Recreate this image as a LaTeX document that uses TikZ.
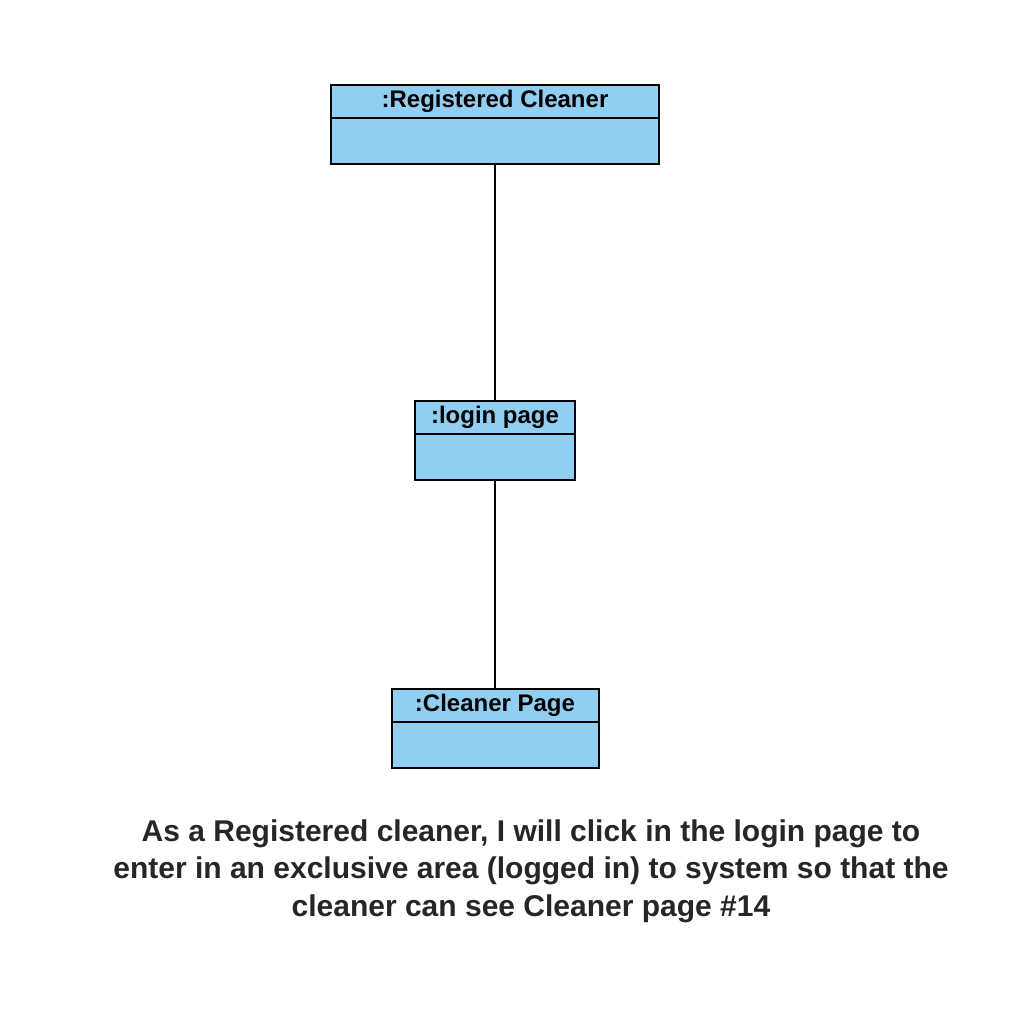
\documentclass[tikz,border=0pt]{standalone}
\usepackage{fontspec}
\setmainfont{Liberation Sans}
\usetikzlibrary{positioning}
\definecolor{objblue}{RGB}{145,206,242}
\definecolor{storygray}{RGB}{38,38,42}

\begin{document}
\begin{tikzpicture}[x=0.75pt,y=-0.75pt,
    objhead/.style={draw,fill=objblue,line width=1.5pt,inner sep=0pt,outer sep=0pt,
      minimum height=24.75pt,font=\bfseries\fontsize{18}{20}\selectfont},
    objbody/.style={draw,fill=objblue,line width=1.5pt,inner sep=0pt,outer sep=0pt,
      minimum height=34.5pt},
    link/.style={draw,line width=1.2pt},
    storytext/.style={align=center,text=storygray,font=\bfseries\fontsize{22.5}{28}\selectfont}]
  \useasboundingbox (0,0) rectangle (1020,1012);
  % objects
  \node[objhead,minimum width=246pt,anchor=north](rchead)at(495,85){:Registered Cleaner};
  \node[objbody,minimum width=246pt,below=0pt of rchead](rcbody){};
  \node[objhead,minimum width=120pt,anchor=north](loginhead)at(495,401){:login page};
  \node[objbody,minimum width=120pt,below=0pt of loginhead](loginbody){};
  \node[objhead,minimum width=155.25pt,anchor=north](cphead)at(495,689){:Cleaner Page};
  \node[objbody,minimum width=155.25pt,below=0pt of cphead](cpbody){};
  % links
  \draw[link](rcbody.south)--(loginhead.north);
  \draw[link](loginbody.south)--(cphead.north);
  % story
  \node[storytext](story)at(531,871){As a Registered cleaner, I will click in the login page to\\
    enter in an exclusive area (logged in) to system so that the\\
    cleaner can see Cleaner page \#14};
\end{tikzpicture}
\end{document}
